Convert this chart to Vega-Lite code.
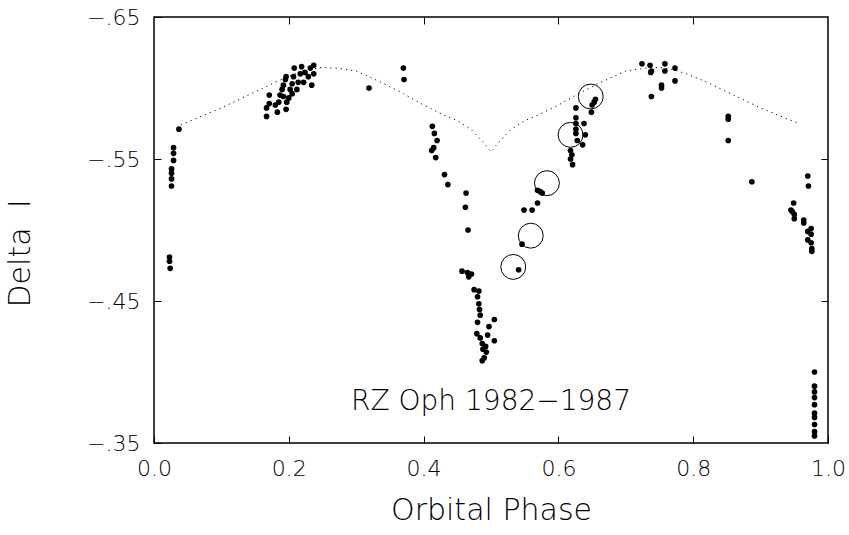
{
  "$schema": "https://vega.github.io/schema/vega-lite/v6.json",
  "width": 674,
  "height": 426,
  "autosize": {"type": "none"},
  "padding": {"left": 154, "top": 17, "right": 21, "bottom": 92},
  "background": "white",
  "config": {
    "view": {"stroke": "#000", "strokeWidth": 1.5},
    "axis": {"labelFont": "DejaVu Sans", "titleFont": "DejaVu Sans", "labelColor": "#000", "titleColor": "#000", "tickColor": "#000", "grid": false, "domain": false, "titleFontWeight": 300, "labelFontWeight": 300}
  },
  "datasets": {
    "obs": [
      {"phase": 0.037, "dmag": -0.571},
      {"phase": 0.029, "dmag": -0.558}, {"phase": 0.029, "dmag": -0.554}, {"phase": 0.029, "dmag": -0.549},
      {"phase": 0.026, "dmag": -0.543}, {"phase": 0.026, "dmag": -0.540}, {"phase": 0.026, "dmag": -0.536}, {"phase": 0.026, "dmag": -0.531},
      {"phase": 0.023, "dmag": -0.481}, {"phase": 0.023, "dmag": -0.478}, {"phase": 0.024, "dmag": -0.473},
      {"phase": 0.167, "dmag": -0.580}, {"phase": 0.167, "dmag": -0.586}, {"phase": 0.171, "dmag": -0.589}, {"phase": 0.171, "dmag": -0.595},
      {"phase": 0.183, "dmag": -0.583}, {"phase": 0.196, "dmag": -0.585}, {"phase": 0.185, "dmag": -0.590}, {"phase": 0.187, "dmag": -0.595},
      {"phase": 0.190, "dmag": -0.599}, {"phase": 0.192, "dmag": -0.602}, {"phase": 0.195, "dmag": -0.606}, {"phase": 0.196, "dmag": -0.608},
      {"phase": 0.200, "dmag": -0.593}, {"phase": 0.202, "dmag": -0.599}, {"phase": 0.205, "dmag": -0.603}, {"phase": 0.207, "dmag": -0.608},
      {"phase": 0.208, "dmag": -0.614}, {"phase": 0.212, "dmag": -0.599}, {"phase": 0.214, "dmag": -0.604}, {"phase": 0.217, "dmag": -0.610},
      {"phase": 0.219, "dmag": -0.615}, {"phase": 0.222, "dmag": -0.604}, {"phase": 0.224, "dmag": -0.611}, {"phase": 0.229, "dmag": -0.608},
      {"phase": 0.232, "dmag": -0.614}, {"phase": 0.234, "dmag": -0.602}, {"phase": 0.237, "dmag": -0.616}, {"phase": 0.237, "dmag": -0.610},
      {"phase": 0.197, "dmag": -0.590}, {"phase": 0.192, "dmag": -0.594}, {"phase": 0.180, "dmag": -0.588}, {"phase": 0.205, "dmag": -0.596},
      {"phase": 0.319, "dmag": -0.600},
      {"phase": 0.370, "dmag": -0.614}, {"phase": 0.371, "dmag": -0.606},
      {"phase": 0.413, "dmag": -0.573}, {"phase": 0.416, "dmag": -0.568}, {"phase": 0.420, "dmag": -0.563}, {"phase": 0.415, "dmag": -0.558},
      {"phase": 0.418, "dmag": -0.551}, {"phase": 0.412, "dmag": -0.556},
      {"phase": 0.431, "dmag": -0.539}, {"phase": 0.436, "dmag": -0.532}, {"phase": 0.463, "dmag": -0.526}, {"phase": 0.462, "dmag": -0.516}, {"phase": 0.466, "dmag": -0.500},
      {"phase": 0.457, "dmag": -0.471}, {"phase": 0.465, "dmag": -0.470}, {"phase": 0.467, "dmag": -0.467}, {"phase": 0.471, "dmag": -0.469},
      {"phase": 0.475, "dmag": -0.458}, {"phase": 0.482, "dmag": -0.457}, {"phase": 0.480, "dmag": -0.453}, {"phase": 0.482, "dmag": -0.448},
      {"phase": 0.483, "dmag": -0.444}, {"phase": 0.484, "dmag": -0.440}, {"phase": 0.480, "dmag": -0.435}, {"phase": 0.505, "dmag": -0.437},
      {"phase": 0.497, "dmag": -0.432}, {"phase": 0.479, "dmag": -0.427}, {"phase": 0.484, "dmag": -0.424}, {"phase": 0.495, "dmag": -0.426},
      {"phase": 0.505, "dmag": -0.422}, {"phase": 0.487, "dmag": -0.420}, {"phase": 0.492, "dmag": -0.418}, {"phase": 0.488, "dmag": -0.416},
      {"phase": 0.493, "dmag": -0.414}, {"phase": 0.490, "dmag": -0.410}, {"phase": 0.487, "dmag": -0.408},
      {"phase": 0.541, "dmag": -0.472}, {"phase": 0.546, "dmag": -0.490}, {"phase": 0.549, "dmag": -0.514}, {"phase": 0.561, "dmag": -0.514},
      {"phase": 0.569, "dmag": -0.519}, {"phase": 0.569, "dmag": -0.528}, {"phase": 0.576, "dmag": -0.526}, {"phase": 0.573, "dmag": -0.527},
      {"phase": 0.618, "dmag": -0.550}, {"phase": 0.621, "dmag": -0.546}, {"phase": 0.618, "dmag": -0.556}, {"phase": 0.620, "dmag": -0.553},
      {"phase": 0.626, "dmag": -0.579}, {"phase": 0.626, "dmag": -0.575}, {"phase": 0.626, "dmag": -0.571}, {"phase": 0.626, "dmag": -0.568},
      {"phase": 0.638, "dmag": -0.575}, {"phase": 0.640, "dmag": -0.567}, {"phase": 0.628, "dmag": -0.563}, {"phase": 0.636, "dmag": -0.560},
      {"phase": 0.626, "dmag": -0.586}, {"phase": 0.649, "dmag": -0.583}, {"phase": 0.650, "dmag": -0.588}, {"phase": 0.653, "dmag": -0.590}, {"phase": 0.655, "dmag": -0.592},
      {"phase": 0.724, "dmag": -0.617}, {"phase": 0.736, "dmag": -0.616}, {"phase": 0.737, "dmag": -0.611}, {"phase": 0.738, "dmag": -0.612},
      {"phase": 0.758, "dmag": -0.617}, {"phase": 0.758, "dmag": -0.612}, {"phase": 0.773, "dmag": -0.614}, {"phase": 0.773, "dmag": -0.605},
      {"phase": 0.753, "dmag": -0.600}, {"phase": 0.753, "dmag": -0.602}, {"phase": 0.738, "dmag": -0.594},
      {"phase": 0.852, "dmag": -0.580}, {"phase": 0.852, "dmag": -0.578}, {"phase": 0.852, "dmag": -0.563},
      {"phase": 0.887, "dmag": -0.534},
      {"phase": 0.970, "dmag": -0.538}, {"phase": 0.971, "dmag": -0.531},
      {"phase": 0.949, "dmag": -0.519}, {"phase": 0.945, "dmag": -0.514}, {"phase": 0.947, "dmag": -0.513}, {"phase": 0.950, "dmag": -0.511},
      {"phase": 0.950, "dmag": -0.508}, {"phase": 0.964, "dmag": -0.507}, {"phase": 0.964, "dmag": -0.505}, {"phase": 0.975, "dmag": -0.501},
      {"phase": 0.970, "dmag": -0.499}, {"phase": 0.975, "dmag": -0.497}, {"phase": 0.970, "dmag": -0.493}, {"phase": 0.975, "dmag": -0.491},
      {"phase": 0.976, "dmag": -0.487}, {"phase": 0.976, "dmag": -0.485},
      {"phase": 0.980, "dmag": -0.400}, {"phase": 0.980, "dmag": -0.390}, {"phase": 0.980, "dmag": -0.386}, {"phase": 0.980, "dmag": -0.382},
      {"phase": 0.980, "dmag": -0.377}, {"phase": 0.980, "dmag": -0.371}, {"phase": 0.980, "dmag": -0.368}, {"phase": 0.980, "dmag": -0.363},
      {"phase": 0.980, "dmag": -0.358}, {"phase": 0.980, "dmag": -0.355}
    ],
    "model": [
      {"phase": 0.040, "dmag": -0.574}, {"phase": 0.070, "dmag": -0.580}, {"phase": 0.100, "dmag": -0.586}, {"phase": 0.140, "dmag": -0.595},
      {"phase": 0.184, "dmag": -0.605}, {"phase": 0.210, "dmag": -0.610}, {"phase": 0.230, "dmag": -0.613}, {"phase": 0.250, "dmag": -0.6145},
      {"phase": 0.270, "dmag": -0.614}, {"phase": 0.300, "dmag": -0.612}, {"phase": 0.337, "dmag": -0.604}, {"phase": 0.370, "dmag": -0.596},
      {"phase": 0.400, "dmag": -0.588}, {"phase": 0.430, "dmag": -0.581}, {"phase": 0.450, "dmag": -0.577}, {"phase": 0.470, "dmag": -0.571},
      {"phase": 0.490, "dmag": -0.561}, {"phase": 0.500, "dmag": -0.555}, {"phase": 0.510, "dmag": -0.561}, {"phase": 0.530, "dmag": -0.571},
      {"phase": 0.550, "dmag": -0.577}, {"phase": 0.570, "dmag": -0.581}, {"phase": 0.600, "dmag": -0.588}, {"phase": 0.630, "dmag": -0.596},
      {"phase": 0.663, "dmag": -0.604}, {"phase": 0.700, "dmag": -0.612}, {"phase": 0.730, "dmag": -0.614}, {"phase": 0.750, "dmag": -0.6145},
      {"phase": 0.770, "dmag": -0.613}, {"phase": 0.790, "dmag": -0.610}, {"phase": 0.816, "dmag": -0.605}, {"phase": 0.860, "dmag": -0.595},
      {"phase": 0.900, "dmag": -0.586}, {"phase": 0.930, "dmag": -0.580}, {"phase": 0.957, "dmag": -0.575}
    ],
    "circ": [
      {"phase": 0.533, "dmag": -0.474}, {"phase": 0.559, "dmag": -0.496}, {"phase": 0.583, "dmag": -0.533},
      {"phase": 0.618, "dmag": -0.567}, {"phase": 0.648, "dmag": -0.594}
    ],
    "label": [{"phase": 0.5, "dmag": -0.379, "text": "RZ Oph 1982−1987"}]
  },
  "resolve": {"axis": {"x": "independent", "y": "independent"}},
  "layer": [
    {
      "data": {"name": "obs"},
      "mark": {"type": "circle", "color": "#000", "opacity": 1, "size": 32},
      "encoding": {
        "x": {"field": "phase", "type": "quantitative", "scale": {"domain": [0, 1], "nice": false, "zero": false},
          "axis": {"orient": "bottom", "title": "Orbital Phase", "values": [0, 0.2, 0.4, 0.6, 0.8, 1.0], "format": ".1f",
            "tickSize": -7, "labelPadding": 22, "labelFontSize": 22, "labelFlush": false,
            "titleFontSize": 30, "titlePadding": 16}},
        "y": {"field": "dmag", "type": "quantitative", "scale": {"domain": [-0.65, -0.35], "reverse": true, "nice": false, "zero": false},
          "axis": {"orient": "left", "title": "Delta\u00a0\u00a0I", "values": [-0.65, -0.55, -0.45, -0.35],
            "labelExpr": "'\u2212' + substring(format(abs(datum.value), '.2f'), 1)",
            "tickSize": -7, "labelPadding": 21, "labelFontSize": 22, "labelFlush": false,
            "titleFontSize": 30, "titleAngle": 270, "titleX": -134, "titleY": 236, "titleAlign": "center", "titleBaseline": "middle"}}
      }
    },
    {
      "data": {"name": "model"},
      "mark": {"type": "line", "color": "#000", "strokeWidth": 1, "strokeDash": [1.2, 4]},
      "encoding": {
        "x": {"field": "phase", "type": "quantitative",
          "axis": {"orient": "top", "title": null, "labels": false, "values": [0.2, 0.4, 0.6, 0.8], "tickSize": -7}},
        "y": {"field": "dmag", "type": "quantitative",
          "axis": {"orient": "right", "title": null, "labels": false, "values": [-0.55, -0.45], "tickSize": -7}}
      }
    },
    {
      "data": {"name": "circ"},
      "mark": {"type": "point", "shape": "circle", "filled": false, "color": "#000", "strokeWidth": 1, "size": 620, "opacity": 1},
      "encoding": {
        "x": {"field": "phase", "type": "quantitative", "axis": null},
        "y": {"field": "dmag", "type": "quantitative", "axis": null}
      }
    },
    {
      "data": {"name": "label"},
      "mark": {"type": "text", "font": "DejaVu Sans", "fontSize": 28, "fontWeight": 300, "align": "center", "baseline": "middle", "color": "#000"},
      "encoding": {
        "x": {"field": "phase", "type": "quantitative", "axis": null},
        "y": {"field": "dmag", "type": "quantitative", "axis": null},
        "text": {"field": "text"}
      }
    }
  ]
}
